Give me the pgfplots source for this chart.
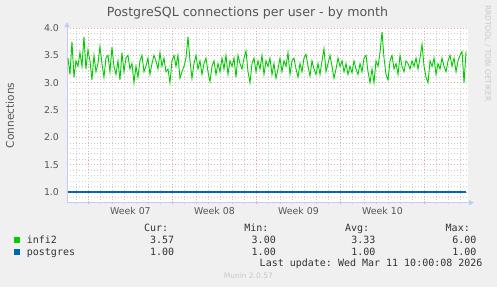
\documentclass[border=0pt]{standalone}
\usepackage{fontspec}
\setmainfont{DejaVu Sans}
\setmonofont{DejaVu Sans Mono}
\usepackage{pgfplots}
\pgfplotsset{compat=1.18}
\usepackage{pgfplotstable}
\usetikzlibrary{arrows.meta}
\definecolor{bg}{HTML}{F0F0F0}
\definecolor{gridred}{HTML}{E4A8A8}
\definecolor{gridgray}{HTML}{D0D0D0}
\definecolor{axisblue}{HTML}{C8C8F4}
\definecolor{txt}{HTML}{555555}
\definecolor{ltxt}{HTML}{333333}
\definecolor{infigreen}{HTML}{00CC00}
\definecolor{pgblue}{HTML}{0066B3}
\definecolor{faint}{HTML}{C8C8C8}

\pgfplotstableread{
y
3.45
3.15
3.75
3.10
3.40
3.30
3.55
3.30
3.84
3.25
3.60
3.40
3.05
3.50
3.20
3.35
3.66
3.35
3.10
3.45
3.50
3.20
3.65
3.30
3.15
3.40
3.05
3.55
3.20
3.45
3.50
3.25
3.35
3.00
3.30
3.10
3.40
3.50
3.20
3.30
3.45
3.15
3.35
3.50
3.40
3.25
3.55
3.30
3.45
3.20
3.25
3.00
3.40
3.50
3.30
3.50
3.08
3.20
3.30
3.45
3.84
3.40
3.08
3.35
3.50
3.25
3.40
3.15
3.35
3.45
3.20
3.02
3.30
3.40
3.15
3.35
3.20
3.45
3.25
3.50
3.15
3.40
3.30
3.45
3.10
3.50
3.35
3.25
3.45
3.58
3.20
3.00
3.35
3.45
3.20
3.40
3.25
3.50
3.15
3.40
3.30
3.45
3.15
3.35
3.08
3.25
3.45
3.20
3.40
3.30
3.55
3.15
3.40
3.45
3.25
3.10
3.35
3.20
3.45
3.52
3.30
3.12
3.40
3.25
3.15
3.35
3.15
3.40
3.62
3.20
3.35
3.50
3.30
3.08
3.25
3.45
3.30
3.40
3.20
3.35
3.15
3.30
3.18
3.40
3.25
3.15
3.35
3.20
3.45
3.50
3.20
3.00
3.25
3.00
3.40
3.30
3.55
3.93
3.45
3.15
3.05
3.40
3.50
3.25
3.35
3.15
3.50
3.30
3.20
3.40
3.35
3.25
3.40
3.30
3.45
3.25
3.45
3.70
3.30
3.10
3.00
3.40
3.30
3.45
3.15
3.35
3.25
3.45
3.30
3.20
3.40
3.50
3.30
3.45
3.20
3.40
3.50
3.57
3.00
3.57
}\infi

\begin{document}
\begin{tikzpicture}
\useasboundingbox (0pt,0pt) rectangle (497pt,287pt);
\fill[bg] (0pt,0pt) rectangle (497pt,287pt);
\begin{axis}[
  at={(67pt,84.3pt)}, anchor=south west,
  scale only axis, width=401pt, height=174.7pt,
  xmin=-1.78, xmax=31.63, ymin=0.805, ymax=4.0,
  axis background/.style={fill=white},
  axis lines=left,
  axis line style={draw=axisblue, line width=0.8pt, -{Triangle[length=5pt,width=5pt]}, shorten >=-6pt},
  xtick={0,7,14,21,28}, xticklabels={},
  minor xtick={-1,1,2,3,4,5,6,8,9,10,11,12,13,15,16,17,18,19,20,22,23,24,25,26,27,29,30,31},
  extra x ticks={3.5,10.5,17.5,24.5},
  extra x tick labels={Week 07,Week 08,Week 09,Week 10},
  extra x tick style={grid=none, major tick length=0pt},
  ytick={1,1.5,2,2.5,3,3.5,4},
  minor ytick={0.9,1.1,1.2,1.3,1.4,1.6,1.7,1.8,1.9,2.1,2.2,2.3,2.4,2.6,2.7,2.8,2.9,3.1,3.2,3.3,3.4,3.6,3.7,3.8,3.9},
  grid=both,
  major grid style={draw=gridred, line width=0.6pt, dash pattern=on 1pt off 2pt},
  minor grid style={draw=gridgray, line width=0.6pt, dash pattern=on 1pt off 2pt},
  tick align=center,
  major tick length=3pt, minor tick length=2pt,
  x tick style={draw=gridred},
  minor x tick style={draw=gridgray},
  y tick style={draw=none},
  minor y tick style={draw=none},
  tick label style={font=\fontsize{9.4}{11}\selectfont, text=txt},
  /pgf/number format/assume math mode=true,
  yticklabel style={/pgf/number format/.cd, fixed, fixed zerofill, precision=1},
  yticklabel shift=3pt,
  xticklabel shift=1pt,
  title={PostgreSQL connections per user - by month},
  title style={font=\fontsize{12.6}{14}\selectfont, text=txt, at={(axis description cs:0.5,1)}, anchor=center, xshift=-20pt, yshift=9pt},
  ylabel={Connections},
  ylabel style={font=\fontsize{10.6}{12}\selectfont, text=txt, at={(axis description cs:0,0.5)}, anchor=center, yshift=57pt},
  clip=false,
]
\addplot[draw=pgblue, line width=1.4pt] coordinates {(-1.72,1) (31.5,1)};
\addplot[draw=infigreen, line width=0.9pt] table[x expr=\coordindex/6-1.7, y=y] {\infi};
\end{axis}
% legend
\fill[infigreen] (14pt,44pt) rectangle (20pt,50pt);
\fill[pgblue] (14pt,32pt) rectangle (20pt,38pt);
\begin{scope}[every node/.style={font=\ttfamily\fontsize{10}{12}\selectfont, text=ltxt, inner sep=0pt}]
\node[anchor=base west] at (26.7pt,43.7pt) {infi2};
\node[anchor=base west] at (26.7pt,32pt) {postgres};
\node[anchor=base east] at (168.3pt,55.3pt) {Cur:};
\node[anchor=base east] at (268.7pt,55.3pt) {Min:};
\node[anchor=base east] at (369.3pt,55.3pt) {Avg:};
\node[anchor=base east] at (470pt,55.3pt) {Max:};
\node[anchor=base east] at (174.3pt,43.7pt) {3.57};
\node[anchor=base east] at (276pt,43.7pt) {3.00};
\node[anchor=base east] at (375.7pt,43.7pt) {3.33};
\node[anchor=base east] at (476.7pt,43.7pt) {6.00};
\node[anchor=base east] at (174.3pt,32pt) {1.00};
\node[anchor=base east] at (276pt,32pt) {1.00};
\node[anchor=base east] at (375.7pt,32pt) {1.00};
\node[anchor=base east] at (476.7pt,32pt) {1.00};
\node[anchor=base east] at (482.7pt,20.3pt) {Last update: Wed Mar 11 10:00:08 2026};
\end{scope}
\node[font=\fontsize{7.5}{9}\selectfont, text=faint, inner sep=0pt] at (248.3pt,11pt) {Munin 2.0.57};
\node[font=\fontsize{7.5}{9}\selectfont, text=faint, inner sep=0pt, rotate=-90] at (487.7pt,233.7pt) {RRDTOOL / TOBI OETIKER};
\end{tikzpicture}
\end{document}
